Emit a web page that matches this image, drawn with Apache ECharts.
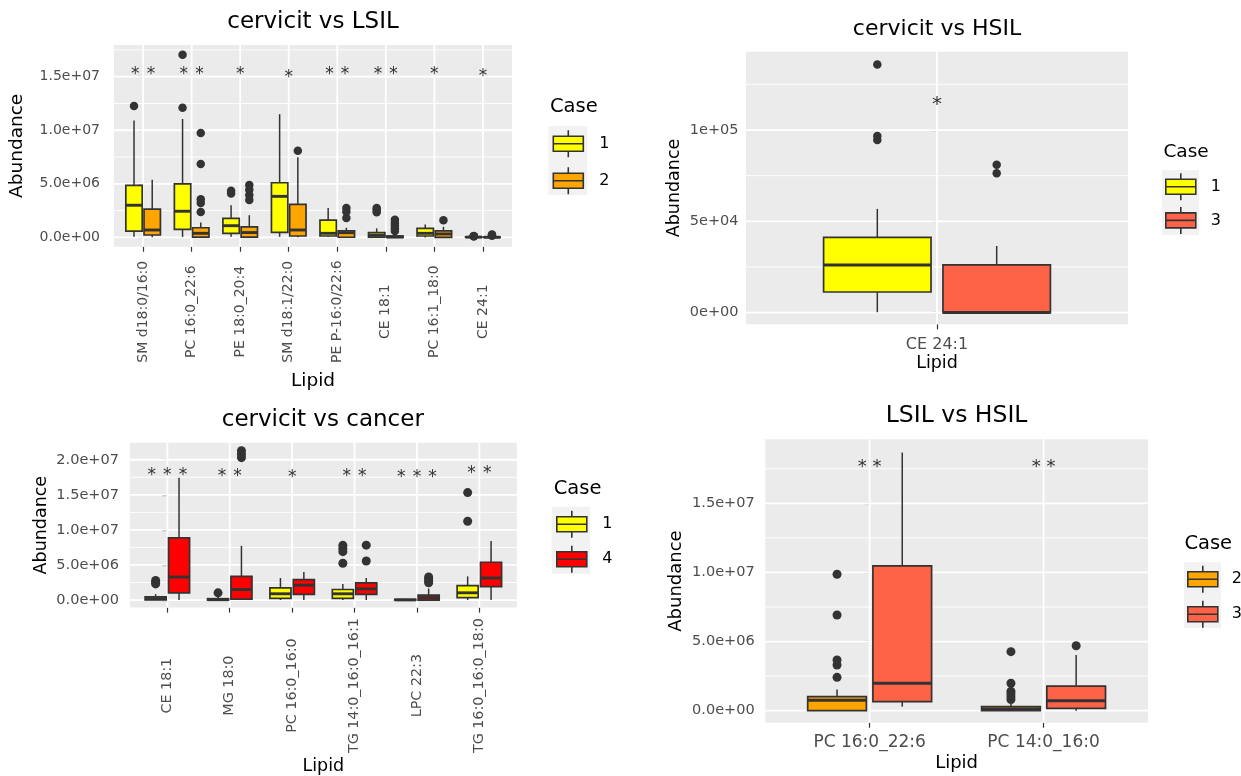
<!DOCTYPE html>
<html><head><meta charset="utf-8">
<script src="https://cdn.jsdelivr.net/npm/echarts@6.0.0/dist/echarts.min.js"></script>
<style>html,body{margin:0;padding:0;background:#fff}#c{width:1241px;height:776px}</style>
</head><body><div id="c"></div>
<script>
// ================= DATA =================
// Box stats per category: [lower whisker, Q1, median, Q3, upper whisker]
// ---- Panel 1: cervicit vs LSIL ----
const p1Lipids = ['SM d18:0/16:0','PC 16:0_22:6','PE 18:0_20:4','SM d18:1/22:0','PE P-16:0/22:6','CE 18:1','PC 16:1_18:0','CE 24:1'];
const p1Case1 = [
  [0.05e6,0.59e6,3.0e6,4.85e6,10.9e6],
  [0.05e6,0.75e6,2.44e6,5.0e6,11.05e6],
  [0.07e6,0.38e6,1.09e6,1.77e6,3.0e6],
  [0.05e6,0.47e6,3.83e6,5.1e6,11.5e6],
  [0.05e6,0.13e6,0.38e6,1.61e6,2.75e6],
  [0,0.02e6,0.2e6,0.44e6,0.84e6],
  [0,0.13e6,0.38e6,0.84e6,1.21e6],
  [0,11.3e3,26.1e3,41.2e3,56.8e3]
];
const p1Case1Out = [[12.26e6],[17.05e6,12.1e6],[4.35e6,4.1e6],[],[],[2.75e6,2.55e6,2.35e6],[],[94.5e3,96.7e3,135.9e3]];
const p1Case2 = [
  [0.02e6,0.22e6,0.69e6,2.63e6,5.38e6],
  [0,0.02e6,0.38e6,0.9e6,1.4e6],
  [0,0.02e6,0.45e6,0.99e6,2.07e6],
  [0.02e6,0.13e6,0.69e6,3.09e6,7.47e6],
  [0,0.01e6,0.44e6,0.62e6,0.9e6],
  [0,0,0.04e6,0.13e6,0.44e6],
  [0,0,0.32e6,0.6e6,0.99e6],
  [0,5e3,12e3,30e3,70e3]
];
const p1Case2Out = [[],[9.75e6,6.86e6,3.56e6,3.22e6,2.38e6],[4.9e6,4.45e6,3.95e6,3.5e6],[8.09e6],[2.75e6,2.4e6,1.8e6],[1.65e6,1.35e6,1.1e6,0.85e6,0.6e6],[1.61e6],[150e3,220e3,280e3]];
const p1Sig = ['**','**','*','*','**','**','*','*'];
const p1SigY = [15.6e6,15.55e6,15.55e6,15.35e6,15.6e6,15.55e6,15.6e6,15.4e6];
const p1YTicks = [0,5e6,1e7,1.5e7];
const p1YLabels = ['0.0e+00','5.0e+06','1.0e+07','1.5e+07'];
const p1YMinor = [2.5e6,7.5e6,1.25e7,1.75e7];

// ---- Panel 2: cervicit vs HSIL ----
const p2Lipids = ['CE 24:1'];
const p2Case1 = [[0.2e3,11.3e3,26.1e3,41.2e3,56.8e3]];
const p2Case1Out = [[135.9e3,96.7e3,94.5e3]];
const p2Case3 = [[0,0,0.1e3,26.1e3,36.5e3]];
const p2Case3Out = [[81.0e3,76.3e3]];
const p2Sig = ['*'];
const p2SigY = [116.8e3];
const p2YTicks = [0,5e4,1e5];
const p2YLabels = ['0e+00','5e+04','1e+05'];
const p2YMinor = [2.5e4,7.5e4,1.25e5];

// ---- Panel 3: cervicit vs cancer ----
const p3Lipids = ['CE 18:1','MG 18:0','PC 16:0_16:0','TG 14:0_16:0_16:1','LPC 22:3','TG 16:0_16:0_18:0'];
const p3Case1 = [
  [0,0.02e6,0.2e6,0.44e6,0.84e6],
  [0,0,0.05e6,0.19e6,0.42e6],
  [0,0.23e6,0.89e6,1.73e6,3.14e6],
  [0,0.23e6,0.89e6,1.5e6,2.3e6],
  [0,0,0.02e6,0.09e6,0.19e6],
  [0,0.33e6,1.03e6,2.06e6,3.37e6]
];
const p3Case1Out = [[2.8e6,2.55e6,2.3e6],[1.03e6],[],[7.8e6,7.35e6,6.9e6,5.25e6],[],[15.32e6,11.24e6]];
const p3Case4 = [
  [0,1.03e6,3.28e6,8.85e6,17.42e6],
  [0,0.14e6,1.5e6,3.37e6,7.73e6],
  [0,0.8e6,2.11e6,2.9e6,3.98e6],
  [0,0.8e6,1.59e6,2.44e6,3.14e6],
  [0,0,0.33e6,0.7e6,1.64e6],
  [0,1.92e6,3.14e6,5.39e6,8.43e6]
];
const p3Case4Out = [[],[21.3e6,20.8e6,20.3e6],[],[7.82e6,5.57e6],[3.3e6,3.0e6,2.7e6,2.45e6],[]];
const p3Sig = ['***','**','*','**','***','**'];
const p3SigY = [18.41e6,18.2e6,18.03e6,18.2e6,18.07e6,18.69e6];
const p3YTicks = [0,5e6,1e7,1.5e7,2e7];
const p3YLabels = ['0.0e+00','5.0e+06','1.0e+07','1.5e+07','2.0e+07'];
const p3YMinor = [2.5e6,7.5e6,1.25e7,1.75e7];

// ---- Panel 4: LSIL vs HSIL ----
const p4Lipids = ['PC 16:0_22:6','PC 14:0_16:0'];
const p4Case2 = [[0,0,0.75e6,1.01e6,1.54e6],[0,0,0.12e6,0.29e6,0.48e6]];
const p4Case2Out = [[9.87e6,6.92e6,3.67e6,3.3e6,2.41e6],[4.27e6,1.98e6,1.4e6,1.2e6,1.0e6,0.8e6]];
const p4Case3 = [[0.29e6,0.65e6,1.98e6,10.47e6,18.67e6],[0,0.17e6,0.72e6,1.78e6,4.03e6]];
const p4Case3Out = [[],[4.70e6]];
const p4Sig = ['**','**'];
const p4SigY = [17.9e6,17.96e6];
const p4YTicks = [0,5e6,1e7,1.5e7];
const p4YLabels = ['0.0e+00','5.0e+06','1.0e+07','1.5e+07'];
const p4YMinor = [2.5e6,7.5e6,1.25e7,1.75e7];

const caseNames = {c1:'1', c2:'2', c3:'3', c4:'4'};
// ================= STYLE / LAYOUT =================
const F = 'DejaVu Sans';
const COL = {'1':'#FFFF00','2':'#FFA500','3':'#FF6347','4':'#FF0000'};
const DODGE = 0.1875, HALFW = 0.16875;
const ICON = 'path://M15,0L15,6M0,6L30,6L30,21L0,21ZM0,13.5L30,13.5M15,21L15,27';

const panels = [
  {title:'cervicit vs LSIL', cats:p1Lipids,
   groups:[{name:caseNames.c1, box:p1Case1, out:p1Case1Out},{name:caseNames.c2, box:p1Case2, out:p1Case2Out}],
   sig:p1Sig, sigY:p1SigY, yT:p1YTicks, yL:p1YLabels, yMin:p1YMinor, yRange:[-0.87e6,17.96e6],
   grid:{left:114, top:45, width:398, height:201.7}, titleX:313, titleTop:10.2, titleSize:23,
   tick:14, xRot:90, xMargin:65, xSize:14, yMargin:14, xGap:124.7, yGap:87, nameSize:18.5,
   caseLeft:550, caseTop:97, caseSize:19.5, lgLeft:552.5, lgTop:129.5, lgW:30, lgGap:8.3, lgPad:11,
   keyBg:[548.5,126,38.8,69], dot:8.5, star:17, join:' \u200A'},
  {title:'cervicit vs HSIL', cats:p2Lipids,
   groups:[{name:caseNames.c1, box:p2Case1, out:p2Case1Out},{name:caseNames.c3, box:p2Case3, out:p2Case3Out}],
   sig:p2Sig, sigY:p2SigY, yT:p2YTicks, yL:p2YLabels, yMin:p2YMinor, yRange:[-6.4e3,142.9e3],
   grid:{left:746, top:51.7, width:382, height:272.6}, titleX:937, titleTop:18.5, titleSize:22,
   tick:14.5, xRot:0, xMargin:12.3, xSize:16, yMargin:7.5, xGap:29.8, yGap:62.8, nameSize:17.5,
   caseLeft:1163.4, caseTop:142.4, caseSize:18.5, lgLeft:1165, lgTop:172.5, lgW:30, lgGap:5, lgPad:10,
   keyBg:[1161.8,170,37.2,65], dot:8.5, star:20, join:' '},
  {title:'cervicit vs cancer', cats:p3Lipids,
   groups:[{name:caseNames.c1, box:p3Case1, out:p3Case1Out},{name:caseNames.c4, box:p3Case4, out:p3Case4Out}],
   sig:p3Sig, sigY:p3SigY, yT:p3YTicks, yL:p3YLabels, yMin:p3YMinor, yRange:[-1.08e6,22.43e6],
   grid:{left:129.9, top:442.7, width:386.9, height:167.3}, titleX:322.8, titleTop:408.2, titleSize:23,
   tick:14.5, xRot:90, xMargin:78, xSize:14.3, yMargin:11, xGap:149, yGap:79.4, nameSize:17.5,
   caseLeft:553.7, caseTop:478.5, caseSize:19.5, lgLeft:556, lgTop:510, lgW:30, lgGap:6.4, lgPad:10.5,
   keyBg:[551.7,506.7,38.3,67.3], dot:9, star:17, join:' \u200A'},
  {title:'LSIL vs HSIL', cats:p4Lipids,
   groups:[{name:caseNames.c2, box:p4Case2, out:p4Case2Out},{name:caseNames.c3, box:p4Case3, out:p4Case3Out}],
   sig:p4Sig, sigY:p4SigY, yT:p4YTicks, yL:p4YLabels, yMin:p4YMinor, yRange:[-0.87e6,19.63e6],
   grid:{left:765.3, top:439.3, width:382.6, height:283.4}, titleX:956.6, titleTop:403.5, titleSize:23.5,
   tick:14.5, xRot:0, xMargin:11.5, xSize:17, yMargin:10.6, xGap:31.4, yGap:80.1, nameSize:18,
   caseLeft:1184.4, caseTop:533.5, caseSize:19.5, lgLeft:1187, lgTop:565, lgW:30, lgGap:6.4, lgPad:9,
   keyBg:[1184,562.3,37,66], dot:9, star:18, join:' '}
];

function nearestLabel(ticks, labels) {
  return function (v) {
    let k = 0, d = Infinity;
    ticks.forEach((t, i) => { const dd = Math.abs(t - v); if (dd < d) { d = dd; k = i; } });
    return labels[k];
  };
}

const option = {animation:false, backgroundColor:'#ffffff', grid:[], xAxis:[], yAxis:[], series:[], title:[], legend:[], graphic:{elements:[]}};

panels.forEach((p, k) => {
  const n = p.cats.length;
  const idx = p.cats.map((_, i) => i);
  option.grid.push(Object.assign({show:true, backgroundColor:'#EBEBEB', borderWidth:0}, p.grid));
  option.xAxis.push({
    type:'value', gridIndex:k, min:-0.6, max:n - 0.4,
    axisLine:{show:false, onZero:false}, splitLine:{show:false},
    axisTick:{show:true, customValues:idx, length:5, lineStyle:{color:'#333333', width:1.2}},
    axisLabel:{customValues:idx, formatter:(v) => p.cats[Math.round(v)], rotate:p.xRot,
      align:'center', verticalAlign: p.xRot ? 'middle' : 'top', margin:p.xMargin,
      fontFamily:F, fontSize:p.xSize, color:'#4D4D4D'},
    name:'Lipid', nameLocation:'middle', nameGap:p.xGap,
    nameTextStyle:{fontFamily:F, fontSize:p.nameSize, color:'#000000'}
  });
  option.yAxis.push({
    type:'value', gridIndex:k, min:p.yRange[0], max:p.yRange[1],
    axisLine:{show:false}, splitLine:{show:false},
    axisTick:{show:true, customValues:p.yT, length:5, lineStyle:{color:'#333333', width:1.2}},
    axisLabel:{customValues:p.yT, formatter:nearestLabel(p.yT, p.yL), margin:p.yMargin,
      fontFamily:F, fontSize:p.tick, color:'#4D4D4D'},
    name:'Abundance', nameLocation:'middle', nameGap:p.yGap,
    nameTextStyle:{fontFamily:F, fontSize:p.nameSize, color:'#000000'}
  });

  // grid lines (panel background lines)
  const gl = [];
  p.yT.forEach(v => gl.push([0, v]));
  p.yMin.forEach(v => gl.push([1, v]));
  idx.forEach(i => gl.push([2, i]));
  option.series.push({
    type:'custom', name:'grid' + k, xAxisIndex:k, yAxisIndex:k, z:1, silent:true,
    data: gl, encode:{x:-1, y:-1},
    renderItem: function (params, api) {
      const cs = params.coordSys;
      const kind = api.value(0), v = api.value(1);
      let shape;
      if (kind < 2) {
        const y = api.coord([0, v])[1];
        if (y < cs.y - 0.5 || y > cs.y + cs.height + 0.5) return null;
        shape = {x1:cs.x, y1:y, x2:cs.x + cs.width, y2:y};
      } else {
        const x = api.coord([v, 0])[0];
        shape = {x1:x, y1:cs.y, x2:x, y2:cs.y + cs.height};
      }
      return {type:'line', shape, style:{stroke:'#FFFFFF', lineWidth: kind === 1 ? 0.9 : 1.8}};
    }
  });

  // boxes and outliers
  p.groups.forEach((g, gi) => {
    const off = gi === 0 ? -DODGE : DODGE;
    const color = COL[g.name];
    option.series.push({
      type:'custom', name:g.name, xAxisIndex:k, yAxisIndex:k, z:3, silent:true,
      itemStyle:{color:color, borderColor:'#333333', borderWidth:1.6},
      encode:{x:0, y:[1,2,3,4,5]},
      data: g.box.map((s, i) => [i + off].concat(s)),
      renderItem: function (params, api) {
        const x = api.value(0);
        const c = (v) => api.coord([x, v]);
        const pL = c(api.value(1)), q1 = c(api.value(2)), pM = c(api.value(3)), q3 = c(api.value(4)), pH = c(api.value(5));
        const hw = api.size([HALFW * 2, 0])[0] / 2;
        const cx = pM[0];
        return {type:'group', children:[
          {type:'line', shape:{x1:cx, y1:pH[1], x2:cx, y2:q3[1]}, style:{stroke:'#333333', lineWidth:1.5}},
          {type:'line', shape:{x1:cx, y1:q1[1], x2:cx, y2:pL[1]}, style:{stroke:'#333333', lineWidth:1.5}},
          {type:'rect', shape:{x:cx - hw, y:q3[1], width:2 * hw, height:q1[1] - q3[1]}, style:{fill:color, stroke:'#333333', lineWidth:1.7}},
          {type:'line', shape:{x1:cx - hw, y1:pM[1], x2:cx + hw, y2:pM[1]}, style:{stroke:'#333333', lineWidth:2.9}}
        ]};
      }
    });
    const pts = [];
    g.out.forEach((arr, i) => arr.forEach(v => pts.push([i + off, v])));
    option.series.push({
      type:'scatter', name:'outliers' + k + '_' + gi, xAxisIndex:k, yAxisIndex:k, z:4, silent:true,
      symbol:'circle', symbolSize:p.dot, itemStyle:{color:'#333333', opacity:1}, data:pts
    });
  });

  // significance stars
  option.series.push({
    type:'custom', name:'sig' + k, xAxisIndex:k, yAxisIndex:k, z:5, silent:true,
    data: p.sigY.map((v, i) => [i, v]),
    renderItem: function (params, api) {
      const pt = api.coord([api.value(0), api.value(1)]);
      const txt = p.sig[params.dataIndex].split('').join(p.join);
      return {type:'text', style:{text:txt, x:pt[0], y:pt[1] + 0.25 * p.star, fill:'#333333',
        font: p.star + 'px "DejaVu Sans"', align:'center', verticalAlign:'middle'}};
    }
  });

  // titles
  option.title.push({text:p.title, left:p.titleX, top:p.titleTop, textAlign:'center', padding:0,
    textStyle:{fontFamily:F, fontSize:p.titleSize, fontWeight:'normal', color:'#000000'}});
  option.title.push({text:'Case', left:p.caseLeft, top:p.caseTop, padding:0,
    textStyle:{fontFamily:F, fontSize:p.caseSize, fontWeight:'normal', color:'#000000'}});

  // legend
  option.legend.push({
    orient:'vertical', left:p.lgLeft, top:p.lgTop, padding:0, itemWidth:p.lgW, itemHeight:27, itemGap:p.lgGap,
    selectedMode:false, icon:ICON,
    data: p.groups.map(g => ({name:g.name, itemStyle:{color:COL[g.name], borderColor:'#333333', borderWidth:1.6}})),
    textStyle:{fontFamily:F, fontSize:16, color:'#000000', padding:[0,0,0,p.lgPad]}
  });
  option.graphic.elements.push({type:'rect', z:0, silent:true,
    shape:{x:p.keyBg[0], y:p.keyBg[1], width:p.keyBg[2], height:p.keyBg[3]}, style:{fill:'#F2F2F2'}});
});

const chart = echarts.init(document.getElementById('c'), null, {renderer:'canvas'});
chart.setOption(option);
</script>
</body></html>
